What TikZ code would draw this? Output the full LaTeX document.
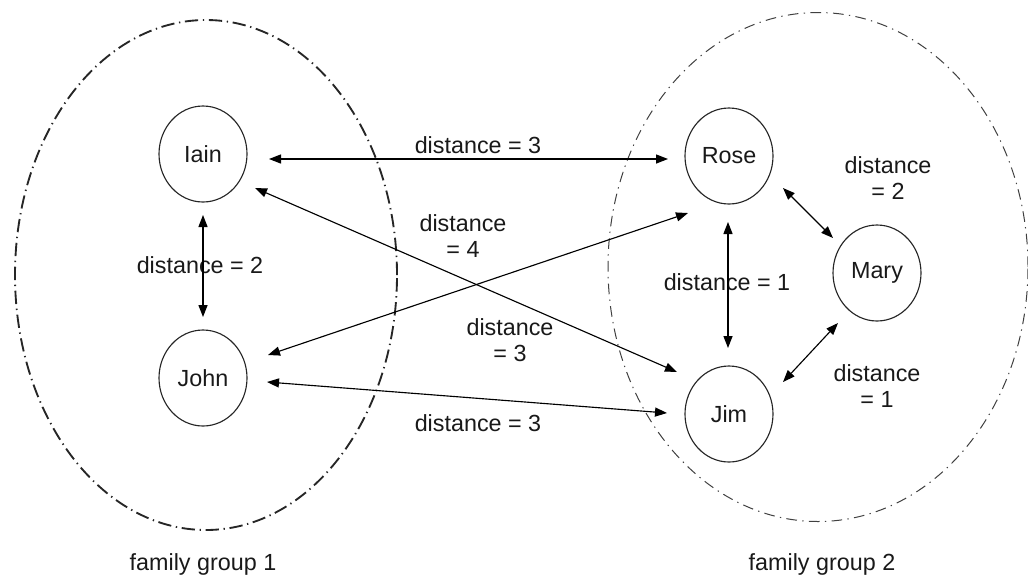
\documentclass[tikz,border=0pt]{standalone}
\usepackage{fontspec}
\setmainfont{Liberation Sans}
\usetikzlibrary{shapes.geometric,arrows.meta,calc}
\begin{document}
\begin{tikzpicture}[x=0.75pt,y=-0.75pt,
  every node/.style={font=\fontsize{17.5}{20}\selectfont, text=black!90},
  person/.style={ellipse, draw=black!85, line width=0.85pt, minimum width=66pt, minimum height=72pt, inner sep=0pt},
  grpa/.style={ellipse, draw=black!85, line width=1.4pt, dash pattern=on 10pt off 3.5pt on 1pt off 3.5pt, inner sep=0pt},
  grpb/.style={ellipse, draw=black!75, line width=0.75pt, dash pattern=on 8pt off 4pt on 1pt off 4pt, inner sep=0pt},
  link/.style={{Triangle[length=9pt,width=6.8pt]}-{Triangle[length=9pt,width=6.8pt]}, line width=0.85pt, draw=black},
  lbl/.style={align=center, inner sep=0pt}]
\useasboundingbox (0,0) rectangle (1028,576);

% family groups
\node[grpa, minimum width=286.5pt, minimum height=382.5pt] (g1) at (206,275) {};
\node[grpb, minimum width=315pt, minimum height=381.75pt] (g2) at (818,267) {};
\node[lbl] (g1lbl) at (203,564) {family group 1};
\node[lbl] (g2lbl) at (822,564) {family group 2};

% persons
\node[person] (Iain) at (203,154) {Iain};
\node[person] (John) at (203,378) {John};
\node[person] (Rose) at (729,156) {Rose};
\node[person] (Mary) at (877,273) {Mary};
\node[person] (Jim)  at (729,414) {Jim};

% labels
\node[lbl] (l1) at (200,265) {distance = 2};
\node[lbl] (l2) at (478,145) {distance = 3};
\node[lbl] (l3) at (463,236) {distance\\= 4};
\node[lbl] (l4) at (510,340) {distance\\= 3};
\node[lbl] (l5) at (478,423) {distance = 3};
\node[lbl] (l6) at (727,282) {distance = 1};
\node[lbl] (l7) at (888,178) {distance\\= 2};
\node[lbl] (l8) at (877,386) {distance\\= 1};

% connectors
\draw[link] ($(Iain.center)+(0,61)$) -- ($(John.center)+(0,-61)$);
\draw[link] ($(Iain.center)+(66,5)$) -- ($(Rose.center)+(-61,3)$);
\draw[link] ($(Iain.center)+(52,34)$) -- ($(Jim.center)+(-52,-42)$);
\draw[link] ($(John.center)+(65,-23)$) -- ($(Rose.center)+(-41,57)$);
\draw[link] ($(John.center)+(64,4)$) -- ($(Jim.center)+(-62,-1)$);
\draw[link] ($(Rose.center)+(-1,66)$) -- ($(Jim.center)+(-1,-66)$);
\draw[link] ($(Rose.center)+(54,32)$) -- ($(Mary.center)+(-44,-35)$);
\draw[link] ($(Mary.center)+(-39,50)$) -- ($(Jim.center)+(54,-32)$);
\end{tikzpicture}
\end{document}
